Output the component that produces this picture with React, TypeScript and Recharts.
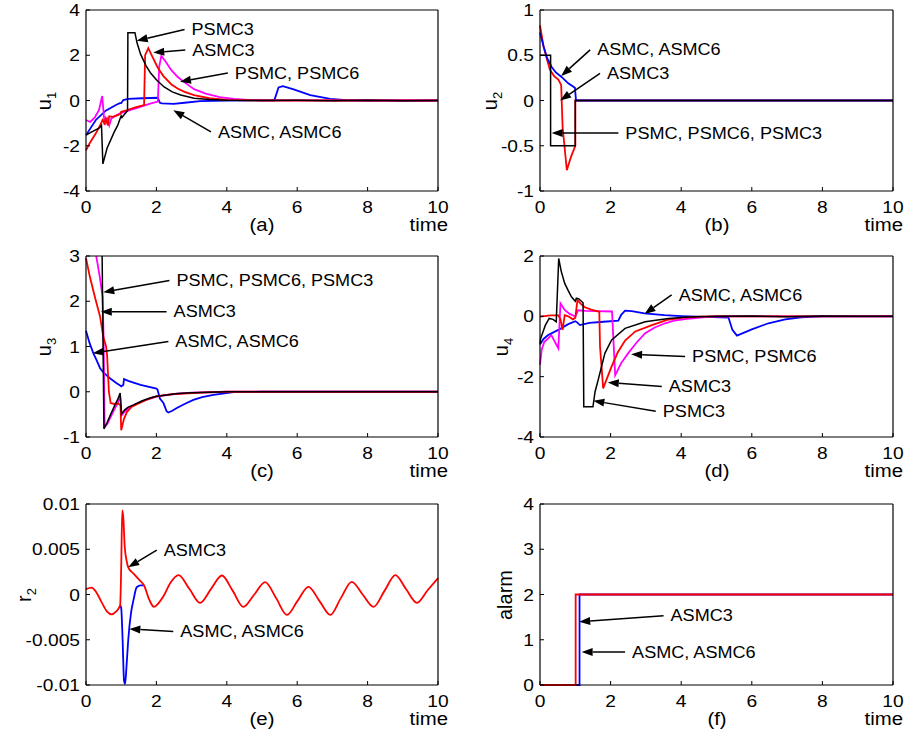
import React from "react"
import { LineChart, Line, XAxis, YAxis, ReferenceLine } from "recharts"

type Pt = [number, number]
type Note = { text: string; from: Pt; to: Pt }

const BLACK = "#000000"
const RED = "#ff0000"
const MAGENTA = "#ff00ff"
const BLUE = "#0000ff"
const FONT = '"Liberation Sans", Arial, sans-serif'
const STRETCH = 1.13

const timeTicks = [0, 2, 4, 6, 8, 10]
const u1Ticks = [-4, -2, 0, 2, 4]
const u2Ticks = [-1, -0.5, 0, 0.5, 1]
const u3Ticks = [-1, 0, 1, 2, 3]
const u4Ticks = [-4, -2, 0, 2]
const r2Ticks = [-0.01, -0.005, 0, 0.005, 0.01]
const alarmTicks = [0, 1, 2, 3, 4]

// (a) u1
const u1PSMC3: Pt[] = [
  [0, -1.53], [0.15, -1.4], [0.37, -1.22], [0.44, -1.1], [0.48, -2.8], [0.6, -2.1], [0.7, -1.75],
  [0.8, -1.4], [0.9, -1.1], [0.97, -0.8], [1.0, -0.68], [1.02, -0.75], [1.1, -0.6], [1.18, -0.45],
  [1.19, 3.0], [1.39, 3.0], [1.45, 2.55], [1.55, 2.05], [1.7, 1.55], [1.84, 1.2], [2.0, 0.92],
  [2.22, 0.6], [2.45, 0.38], [2.69, 0.24], [3.07, 0.1], [3.5, 0.04], [4, 0.01], [5, 0], [6, 0.01],
  [7, -0.01], [8, 0.01], [9, -0.01], [10, 0],
]
const u1ASMC3: Pt[] = [
  [0, -2.2], [0.1, -1.9], [0.28, -1.45], [0.4, -1.1], [0.47, -0.86], [0.52, -1.0], [0.56, -0.8],
  [0.62, -1.1], [0.66, -0.7], [0.75, -0.72], [0.85, -0.68], [0.97, -0.6], [1.0, -0.5], [1.17, -0.42],
  [1.4, -0.3], [1.65, -0.2], [1.68, 2.0], [1.77, 2.31], [1.85, 2.05], [2.04, 1.45], [2.2, 1.08],
  [2.42, 0.72], [2.6, 0.53], [2.8, 0.38], [3.07, 0.24], [3.5, 0.1], [4, 0.03], [4.5, 0.01], [5, 0], [10, 0],
]
const u1PSMC: Pt[] = [
  [0, -0.86], [0.12, -0.95], [0.25, -0.75], [0.37, -0.42], [0.46, 0.2], [0.53, -1.08], [0.6, -0.8],
  [0.66, -1.1], [0.72, -0.8], [0.85, -0.66], [1.0, -0.55], [1.2, -0.45], [1.5, -0.3], [1.8, -0.15],
  [2.04, -0.05], [2.08, 1.5], [2.14, 1.97], [2.25, 1.75], [2.42, 1.35], [2.6, 1.05], [2.8, 0.8],
  [3.07, 0.5], [3.4, 0.3], [3.8, 0.15], [4.2, 0.07], [4.6, 0.03], [5, 0.01], [10, 0],
]
const u1ASMC: Pt[] = [
  [0, -1.53], [0.28, -0.86], [0.56, -0.45], [0.85, -0.2], [0.96, -0.12], [1.0, -0.12], [1.06, 0.02],
  [1.2, 0.07], [1.6, 0.1], [2.04, 0.12], [2.1, -0.1], [2.16, -0.13], [2.49, -0.15], [2.8, -0.1],
  [3.24, -0.03], [4, 0], [5.35, 0.01], [5.47, 0.58], [5.59, 0.63], [5.9, 0.49], [6.37, 0.24],
  [6.94, 0.07], [7.5, 0.01], [8, 0], [10, 0],
]
const u1Notes: Note[] = [
  { text: "PSMC3", from: [2.8, 3.14], to: [1.44, 2.64] },
  { text: "ASMC3", from: [2.82, 2.23], to: [1.91, 2.12] },
  { text: "PSMC, PSMC6", from: [4.03, 1.22], to: [2.67, 0.83] },
  { text: "ASMC, ASMC6", from: [3.55, -1.39], to: [2.48, -0.43] },
]

// (b) u2
const u2PSMC: Pt[] = [[0, 0.5], [0.3, 0.5], [0.3, -0.5], [1.0, -0.5], [1.0, 0], [10, 0]]
const u2ASMC: Pt[] = [
  [0, 0.75], [0.1, 0.6], [0.2, 0.47], [0.33, 0.37], [0.45, 0.31], [0.61, 0.26], [0.8, 0.19],
  [0.99, 0.14], [1.02, 0], [10, 0],
]
const u2ASMC3: Pt[] = [
  [0, 0.83], [0.1, 0.6], [0.2, 0.45], [0.28, 0.34], [0.4, 0.27], [0.52, 0.23], [0.6, 0.17],
  [0.64, -0.29], [0.76, -0.77], [0.88, -0.62], [1.0, -0.5], [1.0, 0], [10, 0],
]
const u2Notes: Note[] = [
  { text: "ASMC, ASMC6", from: [1.42, 0.56], to: [0.6, 0.27] },
  { text: "ASMC3", from: [1.7, 0.3], to: [0.57, 0.0] },
  { text: "PSMC, PSMC6, PSMC3", from: [2.22, -0.36], to: [0.33, -0.36] },
]

// (c) u3
const u3PSMC3: Pt[] = [
  [0, 9], [0.45, 3.6], [0.51, -0.82], [0.6, -0.68], [0.7, -0.5], [0.8, -0.33], [0.9, -0.17],
  [0.97, -0.03], [1.01, -0.49], [1.1, -0.4], [1.2, -0.34], [1.35, -0.29], [1.6, -0.2], [1.82, -0.14],
  [2.0, -0.1], [2.29, -0.07], [2.6, -0.04], [3, -0.02], [3.5, -0.01], [4, 0], [10, 0],
]
const u3PSMC: Pt[] = [
  [0, 8], [0.28, 3.05], [0.4, 2.5], [0.47, 2.1], [0.5, 1.2], [0.53, -0.78], [0.6, -0.72], [0.7, -0.56],
  [0.8, -0.4], [0.9, -0.25], [0.97, -0.1], [1.01, -0.52], [1.1, -0.44], [1.2, -0.37], [1.4, -0.28],
  [1.6, -0.21], [2.0, -0.11], [2.5, -0.05], [3, -0.02], [4, 0], [10, 0],
]
const u3ASMC3: Pt[] = [
  [0, 2.95], [0.11, 2.54], [0.26, 2.07], [0.4, 1.66], [0.49, 1.22], [0.57, 1.0], [0.6, 0.8],
  [0.65, 0.0], [0.7, -0.25], [0.8, -0.27], [0.92, -0.26], [0.98, -0.3], [1.0, -0.85], [1.08, -0.6],
  [1.16, -0.45], [1.3, -0.33], [1.54, -0.24], [1.8, -0.15], [2.0, -0.1], [2.4, -0.06], [2.77, -0.04],
  [3.3, -0.02], [4, 0], [10, 0],
]
const u3ASMC: Pt[] = [
  [0, 1.35], [0.1, 1.08], [0.21, 0.85], [0.3, 0.7], [0.4, 0.52], [0.5, 0.42], [0.68, 0.3], [0.85, 0.2],
  [0.97, 0.14], [1.0, 0.12], [1.06, 0.15], [1.08, 0.28], [1.2, 0.24], [1.35, 0.2], [1.55, 0.15],
  [1.73, 0.12], [2.0, 0.07], [2.03, 0.05], [2.1, -0.15], [2.2, -0.25], [2.29, -0.43], [2.34, -0.46],
  [2.45, -0.42], [2.58, -0.36], [2.8, -0.27], [3.05, -0.18], [3.3, -0.12], [3.62, -0.07],
  [4.19, -0.01], [5, 0], [10, 0],
]
const u3Notes: Note[] = [
  { text: "PSMC, PSMC6, PSMC3", from: [2.37, 2.46], to: [0.49, 2.2] },
  { text: "ASMC3", from: [2.29, 1.77], to: [0.42, 1.77] },
  { text: "ASMC, ASMC6", from: [2.34, 1.11], to: [0.19, 0.85] },
]

// (d) u4
const u4PSMC3: Pt[] = [
  [0, -0.9], [0.02, -0.73], [0.15, -0.3], [0.26, -0.07], [0.37, -0.1], [0.46, -0.18], [0.53, 1.92],
  [0.6, 1.5], [0.7, 1.09], [0.8, 0.85], [0.89, 0.65], [1.0, 0.5], [1.03, 0.6], [1.1, 0.58],
  [1.22, 0.45], [1.24, -3.0], [1.5, -3.0], [1.56, -2.5], [1.65, -2.1], [1.84, -1.22], [2.03, -0.78],
  [2.41, -0.4], [2.98, -0.18], [3.64, -0.07], [4.2, -0.02], [5, 0], [6, 0.01], [7, -0.01], [8, 0.01],
  [9, 0], [10, 0],
]
const u4ASMC3: Pt[] = [
  [0, -0.01], [0.3, 0.03], [0.52, 0.03], [0.58, -0.1], [0.64, -0.45], [0.7, 0.04], [0.8, 0.0],
  [0.93, -0.1], [1.0, -0.05], [1.06, 0.54], [1.15, 0.42], [1.27, 0.3], [1.45, 0.22], [1.68, 0.15],
  [1.7, -1.0], [1.79, -2.39], [1.9, -2.05], [2.03, -1.66], [2.2, -1.2], [2.41, -0.8], [2.7, -0.5],
  [3.17, -0.29], [3.6, -0.12], [4, -0.05], [4.5, -0.01], [5, 0], [10, 0],
]
const u4PSMC: Pt[] = [
  [0, -1.6], [0.05, -1.1], [0.12, -0.85], [0.23, -0.73], [0.32, -0.62], [0.52, -1.06], [0.58, 0.43],
  [0.7, 0.21], [0.84, 0.08], [0.95, 0.02], [1.0, 0.0], [1.08, 0.2], [1.3, 0.18], [1.6, 0.17],
  [2.04, 0.16], [2.13, -1.95], [2.3, -1.55], [2.5, -1.22], [2.75, -0.85], [2.98, -0.56], [3.25, -0.37],
  [3.54, -0.23], [3.8, -0.14], [4.11, -0.09], [4.6, -0.03], [5, 0], [10, 0],
]
const u4ASMC: Pt[] = [
  [0, -0.93], [0.1, -0.75], [0.23, -0.62], [0.52, -0.45], [0.8, -0.26], [1.0, -0.16], [1.05, -0.2],
  [1.13, -0.29], [1.4, -0.22], [1.8, -0.18], [2.22, -0.14], [2.3, 0.05], [2.41, 0.19], [2.6, 0.17],
  [2.96, 0.1], [3.52, 0.04], [4, 0.01], [5.34, -0.04], [5.45, -0.45], [5.58, -0.64], [6.0, -0.43],
  [6.47, -0.23], [6.95, -0.1], [7.4, -0.03], [8, 0], [10, 0],
]
const u4Notes: Note[] = [
  { text: "ASMC, ASMC6", from: [3.73, 0.71], to: [2.96, 0.08] },
  { text: "PSMC, PSMC6", from: [4.11, -1.33], to: [2.58, -1.26] },
  { text: "ASMC3", from: [3.45, -2.33], to: [1.92, -2.19] },
  { text: "PSMC3", from: [3.28, -3.15], to: [1.51, -2.8] },
]

// (e) r2
const r2ASMC3: Pt[] = [
  [0, 0.0006], [0.16, 0.00077], [0.3, 0.0002], [0.45, -0.0009], [0.6, -0.0019], [0.73, -0.0022],
  [0.85, -0.0019], [0.97, -0.0012], [1.0, 0.003], [1.03, 0.0093], [1.06, 0.0085], [1.1, 0.0053],
  [1.15, 0.0038], [1.2, 0.003], [1.35, 0.0023], [1.54, 0.0015], [1.65, 0.001], [1.8, -0.0006],
  [1.93, -0.00137], [2.05, -0.001], [2.2, -0.0002], [2.4, 0.0013], [2.63, 0.00214], [2.94, 0.0006],
  [3.24, -0.00092], [3.55, 0.0006], [3.86, 0.0021], [4.17, 0.0004], [4.47, -0.00137], [4.78, 0.0],
  [5.09, 0.00137], [5.4, -0.0004], [5.71, -0.00225], [6.01, -0.0007], [6.32, 0.00085], [6.63, -0.0007],
  [6.94, -0.00225], [7.24, -0.0004], [7.55, 0.0014], [7.86, 0.0], [8.17, -0.00137], [8.48, 0.0004],
  [8.79, 0.00214], [9.09, 0.0006], [9.4, -0.00092], [9.71, 0.0005], [10, 0.0018],
]
const r2ASMC: Pt[] = [
  [0.97, -0.0012], [1.0, -0.0015], [1.04, -0.005], [1.08, -0.0095], [1.11, -0.0099], [1.15, -0.008],
  [1.2, -0.005], [1.28, -0.002], [1.35, -0.0006], [1.44, 0.0008], [1.55, 0.001], [1.65, 0.001],
]
const r2Notes: Note[] = [
  { text: "ASMC3", from: [2.01, 0.0049], to: [1.2, 0.003] },
  { text: "ASMC, ASMC6", from: [2.48, -0.0041], to: [1.23, -0.0038] },
]

// (f) alarm
const alarmASMC3: Pt[] = [[0, 0], [1.01, 0], [1.01, 2], [10, 2]]
const alarmASMC: Pt[] = [[0, 0], [1.12, 0], [1.12, 2], [10, 2]]
const alarmNotes: Note[] = [
  { text: "ASMC3", from: [3.5, 1.53], to: [1.11, 1.4] },
  { text: "ASMC, ASMC6", from: [2.41, 0.73], to: [1.18, 0.73] },
]

const pts = (a: Pt[]) => a.map(([t, v]) => ({ t, v }))

type Series = { data: Pt[]; color: string; width?: number; curve?: "linear" | "monotone" }
type PanelCfg = {
  id: string
  x: number
  y: number
  w: number
  h: number
  domain: [number, number]
  ticks: number[]
  label: string
  sub?: string
  labelDx: number
  clip?: boolean
  series: Series[]
  notes: Note[]
}

const panels: PanelCfg[] = [
  {
    id: "a", x: 86, y: 10, w: 352, h: 181, domain: [-4, 4], ticks: u1Ticks, label: "u", sub: "1", labelDx: -41,
    series: [
      { data: u1ASMC, color: BLUE },
      { data: u1PSMC, color: MAGENTA },
      { data: u1ASMC3, color: RED },
      { data: u1PSMC3, color: BLACK, width: 1.5 },
    ],
    notes: u1Notes,
  },
  {
    id: "b", x: 540, y: 10, w: 353, h: 181, domain: [-1, 1], ticks: u2Ticks, label: "u", sub: "2", labelDx: -49,
    series: [
      { data: u2ASMC3, color: RED },
      { data: u2ASMC, color: BLUE },
      { data: u2PSMC, color: BLACK, width: 1.5 },
    ],
    notes: u2Notes,
  },
  {
    id: "c", x: 86, y: 256, w: 352, h: 181, domain: [-1, 3], ticks: u3Ticks, label: "u", sub: "3", labelDx: -41, clip: true,
    series: [
      { data: u3ASMC, color: BLUE },
      { data: u3PSMC, color: MAGENTA },
      { data: u3ASMC3, color: RED },
      { data: u3PSMC3, color: BLACK, width: 1.5 },
    ],
    notes: u3Notes,
  },
  {
    id: "d", x: 540, y: 256, w: 353, h: 181, domain: [-4, 2], ticks: u4Ticks, label: "u", sub: "4", labelDx: -38,
    series: [
      { data: u4ASMC, color: BLUE },
      { data: u4PSMC, color: MAGENTA },
      { data: u4ASMC3, color: RED },
      { data: u4PSMC3, color: BLACK, width: 1.5 },
    ],
    notes: u4Notes,
  },
  {
    id: "e", x: 86, y: 504, w: 352, h: 181, domain: [-0.01, 0.01], ticks: r2Ticks, label: "r", sub: "2", labelDx: -61,
    series: [
      { data: r2ASMC, color: BLUE, curve: "monotone" },
      { data: r2ASMC3, color: RED, curve: "monotone" },
    ],
    notes: r2Notes,
  },
  {
    id: "f", x: 540, y: 504, w: 353, h: 181, domain: [0, 4], ticks: alarmTicks, label: "alarm", labelDx: -35,
    series: [
      { data: alarmASMC, color: BLUE },
      { data: alarmASMC3, color: RED },
    ],
    notes: alarmNotes,
  },
]

function XTick(props: any) {
  const { x, y, payload } = props
  return (
    <g transform={`translate(${x},${y})`}>
      <text transform={`scale(${STRETCH},1)`} textAnchor="middle" dy="0.71em" fontSize={17} fontFamily={FONT} fill="#000">
        {payload.value}
      </text>
    </g>
  )
}

function YTick(props: any) {
  const { x, y, payload } = props
  return (
    <g transform={`translate(${x},${y})`}>
      <text transform={`scale(${STRETCH},1)`} textAnchor="end" dy="0.355em" fontSize={17} fontFamily={FONT} fill="#000">
        {payload.value}
      </text>
    </g>
  )
}

const noTick = () => <g />

function Arrow(props: any) {
  const { x1, y1, x2, y2, text } = props
  const dx = x2 - x1
  const dy = y2 - y1
  const len = Math.hypot(dx, dy) || 1
  const ux = dx / len
  const uy = dy / len
  const hl = 11
  const hw = 4
  const bx = x2 - ux * hl
  const by = y2 - uy * hl
  const head = `${x2},${y2} ${bx - uy * hw},${by + ux * hw} ${bx + uy * hw},${by - ux * hw}`
  return (
    <g>
      <line x1={x1} y1={y1} x2={bx} y2={by} stroke="#000" strokeWidth={1.5} />
      <polygon points={head} fill="#000" />
      <g transform={`translate(${x1 + 7},${y1})`}>
        <text transform={`scale(${STRETCH},1)`} dy="0.35em" fontSize={16} fontFamily={FONT} fill="#000">
          {text}
        </text>
      </g>
    </g>
  )
}

const axisStroke = { stroke: "#000", strokeWidth: 1.2 }
const tickStroke = { stroke: "#000", strokeWidth: 1 }

function Panel({ p }: { p: PanelCfg }) {
  const textStyle: React.CSSProperties = {
    position: "absolute",
    fontSize: 18,
    lineHeight: "16px",
    whiteSpace: "nowrap",
  }
  return (
    <>
      <div style={{ position: "absolute", left: p.x - 70, top: p.y - 10 }}>
        <LineChart width={p.w + 90} height={p.h + 40} margin={{ top: 9, right: 19, left: 0, bottom: 0 }}>
          <XAxis
            dataKey="t"
            type="number"
            domain={[0, 10]}
            ticks={timeTicks}
            interval={0}
            height={30}
            tickSize={-4}
            tickMargin={14}
            tick={<XTick />}
            axisLine={axisStroke}
            tickLine={tickStroke}
          />
          <XAxis
            xAxisId="top"
            orientation="top"
            type="number"
            domain={[0, 10]}
            ticks={timeTicks}
            interval={0}
            height={1}
            tickSize={-4}
            tick={noTick}
            axisLine={axisStroke}
            tickLine={tickStroke}
          />
          <YAxis
            type="number"
            domain={p.domain}
            ticks={p.ticks}
            allowDataOverflow={!!p.clip}
            interval={0}
            width={70}
            tickSize={-4}
            tickMargin={10}
            tick={<YTick />}
            axisLine={axisStroke}
            tickLine={tickStroke}
          />
          <YAxis
            yAxisId="right"
            orientation="right"
            type="number"
            domain={p.domain}
            ticks={p.ticks}
            interval={0}
            width={1}
            tickSize={-4}
            tick={noTick}
            axisLine={axisStroke}
            tickLine={tickStroke}
          />
          {p.series.map((s, i) => (
            <Line
              key={i}
              data={pts(s.data)}
              dataKey="v"
              type={s.curve || "linear"}
              stroke={s.color}
              strokeWidth={s.width || 1.8}
              dot={false}
              activeDot={false}
              isAnimationActive={false}
            />
          ))}
          {p.notes.map((n, i) => (
            <ReferenceLine
              key={"n" + i}
              segment={[
                { x: n.from[0], y: n.from[1] },
                { x: n.to[0], y: n.to[1] },
              ]}
              ifOverflow="visible"
              shape={(props: any) => <Arrow {...props} text={n.text} />}
            />
          ))}
        </LineChart>
      </div>
      <div
        style={{
          ...textStyle,
          fontSize: 20,
          lineHeight: "20px",
          left: p.x + p.labelDx,
          top: p.y + p.h / 2,
          transform: "translate(-50%,-50%) rotate(-90deg)",
        }}
      >
        {p.label}
        {p.sub && <span style={{ fontSize: 13, position: "relative", top: 5 }}>{p.sub}</span>}
      </div>
      <div
        style={{
          ...textStyle,
          left: p.x + p.w / 2 - 50,
          width: 100,
          top: p.y + p.h + 26,
          textAlign: "center",
          transform: `scaleX(${STRETCH})`,
        }}
      >
        ({p.id})
      </div>
      <div
        style={{
          ...textStyle,
          left: p.x + p.w + 10 - 100,
          width: 100,
          top: p.y + p.h + 26,
          textAlign: "right",
          transform: `scaleX(${STRETCH})`,
          transformOrigin: "right center",
        }}
      >
        time
      </div>
    </>
  )
}

export default function App() {
  return (
    <div
      style={{
        position: "absolute",
        left: 0,
        top: 0,
        width: 904,
        height: 731,
        background: "#fff",
        fontFamily: FONT,
        color: "#000",
        overflow: "hidden",
      }}
    >
      {panels.map((p) => (
        <Panel key={p.id} p={p} />
      ))}
    </div>
  )
}
